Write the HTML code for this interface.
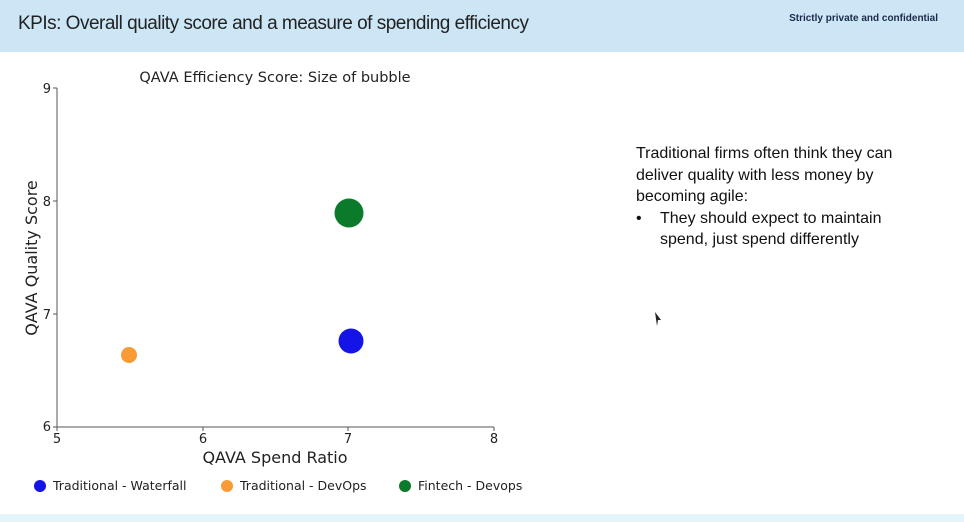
<!DOCTYPE html>
<html><head><meta charset="utf-8"><style>
body{margin:0;width:964px;height:522px;background:#fff;overflow:hidden;font-family:"Liberation Sans","DejaVu Sans",sans-serif;position:relative}
.hdr{position:absolute;left:0;top:0;width:964px;height:52px;background:#cde6f6}
.ftr{position:absolute;left:0;top:514px;width:964px;height:8px;background:#e3f4fb}
.t{position:absolute;left:18px;top:13px;font-size:19px;color:#222;letter-spacing:-0.5px}
.c{position:absolute;right:26px;top:13px;font-size:10px;font-weight:bold;color:#1a2a4a}
.txt{position:absolute;left:636px;top:143px;font-size:16px;line-height:21.5px;color:#111;font-family:"Liberation Sans",sans-serif}
</style></head><body>
<div class="hdr"></div><div class="ftr"></div>
<div class="t">KPIs: Overall quality score and a measure of spending efficiency</div>
<div class="c">Strictly private and confidential</div>
<svg width="964" height="522" style="position:absolute;left:0;top:0" font-family="DejaVu Sans, sans-serif">
<text x="275" y="82" font-size="14.5" text-anchor="middle" fill="#222">QAVA Efficiency Score: Size of bubble</text>
<g stroke="#555" stroke-width="1" fill="none">
<line x1="57" y1="88" x2="57" y2="427"/><line x1="57" y1="427" x2="494" y2="427"/>
<line x1="53" y1="88" x2="57" y2="88"/><line x1="53" y1="201" x2="57" y2="201"/><line x1="53" y1="314" x2="57" y2="314"/><line x1="53" y1="427" x2="57" y2="427"/>
<line x1="57" y1="427" x2="57" y2="431"/><line x1="203" y1="427" x2="203" y2="431"/><line x1="348" y1="427" x2="348" y2="431"/><line x1="494" y1="427" x2="494" y2="431"/>
</g>
<g font-size="13" fill="#222" text-anchor="end">
<text x="51" y="93">9</text><text x="51" y="206">8</text><text x="51" y="319">7</text><text x="51" y="431">6</text>
</g>
<g font-size="13" fill="#222" text-anchor="middle">
<text x="57" y="443">5</text><text x="203" y="443">6</text><text x="348" y="443">7</text><text x="494" y="443">8</text>
</g>
<text x="275" y="463" font-size="16" text-anchor="middle" fill="#222">QAVA Spend Ratio</text>
<text transform="translate(37,258) rotate(-90)" font-size="16" text-anchor="middle" fill="#222">QAVA Quality Score</text>
<circle cx="129" cy="355" r="8" fill="#f99b35"/>
<circle cx="351" cy="341" r="12.5" fill="#1414e6"/>
<circle cx="349" cy="213" r="14.5" fill="#0b7a2a"/>
<g font-size="12.5" fill="#222">
<circle cx="40" cy="486" r="6" fill="#1414e6"/><text x="53" y="490">Traditional - Waterfall</text>
<circle cx="227" cy="486" r="6" fill="#f99b35"/><text x="240" y="490">Traditional - DevOps</text>
<circle cx="405" cy="486" r="6" fill="#0b7a2a"/><text x="418" y="490">Fintech - Devops</text>
</g>
<path d="M655 312 l6 8 l-3 0 l-1 6 z" fill="#222"/>
</svg>
<div class="txt">Traditional firms often think they can<br>deliver quality with less money by<br>becoming agile:<br><span style="display:inline-block;width:24px">•</span>They should expect to maintain<br><span style="display:inline-block;width:24px"></span>spend, just spend differently</div>
</body></html>
